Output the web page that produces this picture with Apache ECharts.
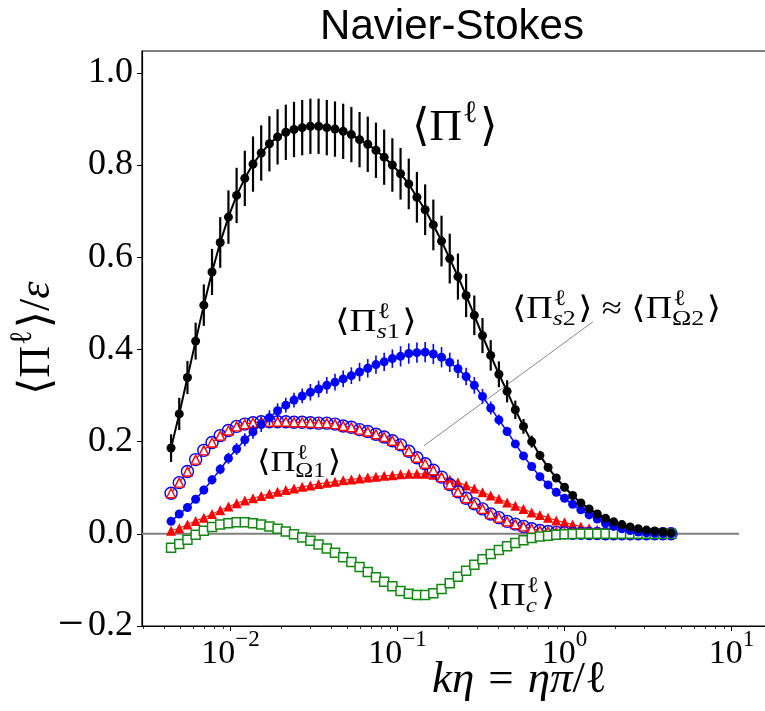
<!DOCTYPE html>
<html><head><meta charset="utf-8">
<script src="https://cdn.jsdelivr.net/npm/echarts@6/dist/echarts.min.js"></script>
<style>html,body{margin:0;padding:0;background:#fff;overflow:hidden}#c{width:765px;height:711px}</style>
</head><body><div id="c"></div>
<script>
// ---------------- data ----------------
const kEta = [0.004406,0.004933,0.005524,0.006183,0.006922,0.007751,0.008679,0.009718,0.01088,0.01218,
  0.01364,0.01527,0.01710,0.01914,0.02144,0.02400,0.02687,0.03009,0.03369,0.03772,
  0.04223,0.04728,0.05294,0.05927,0.06636,0.07430,0.08320,0.09315,0.1043,0.1168,
  0.1307,0.1464,0.1639,0.1835,0.2055,0.2301,0.2576,0.2884,0.3228,0.3615,
  0.4048,0.4532,0.5075,0.5681,0.6361,0.7122,0.7975,0.8929,1.000,1.119,
  1.253,1.404,1.571,1.759,1.970,2.206,2.470,2.765,3.096,3.467,3.881,4.345];
const piL = [0.186,0.260,0.339,0.418,0.496,0.568,0.632,0.687,0.734,0.771,
  0.802,0.826,0.846,0.861,0.871,0.877,0.881,0.884,0.884,0.881,
  0.878,0.873,0.866,0.855,0.845,0.832,0.817,0.800,0.781,0.759,
  0.730,0.703,0.670,0.635,0.597,0.558,0.517,0.474,0.430,0.387,
  0.346,0.309,0.269,0.233,0.200,0.170,0.144,0.121,0.101,0.083,
  0.067,0.054,0.043,0.034,0.026,0.020,0.015,0.011,0.008,0.006,0.004,0.002];
const piLErr = [0.030,0.035,0.036,0.040,0.045,0.050,0.055,0.058,0.060,0.060,
  0.060,0.060,0.060,0.060,0.060,0.060,0.060,0.060,0.060,0.060,
  0.060,0.060,0.060,0.060,0.060,0.060,0.060,0.058,0.056,0.055,
  0.055,0.055,0.055,0.055,0.054,0.050,0.047,0.043,0.038,0.033,
  0.028,0.024,0.020,0.016,0.013,0.010,0.008,0.006,0.005,0.004,
  0.003,0.003,0.003,0.003,0.003,0.003,0.003,0.003,0.003,0.003,0.003,0.003];
const piS1 = [0.027,0.043,0.057,0.075,0.095,0.117,0.140,0.164,0.184,0.204,
  0.221,0.237,0.252,0.267,0.279,0.290,0.299,0.307,0.314,0.322,
  0.329,0.336,0.343,0.351,0.359,0.367,0.373,0.380,0.385,0.391,
  0.393,0.394,0.390,0.383,0.372,0.358,0.341,0.322,0.298,0.273,
  0.247,0.222,0.195,0.169,0.146,0.124,0.106,0.090,0.077,0.064,
  0.052,0.041,0.032,0.023,0.016,0.011,0.007,0.004,0.002,0.001,0.0005,0.0];
const piS1Err = [0.005,0.006,0.007,0.008,0.009,0.010,0.011,0.012,0.013,0.014,
  0.015,0.016,0.016,0.016,0.016,0.016,0.016,0.018,0.018,0.018,
  0.018,0.018,0.018,0.020,0.020,0.020,0.020,0.020,0.022,0.022,
  0.022,0.022,0.022,0.022,0.021,0.020,0.019,0.018,0.016,0.014,
  0.012,0.010,0.008,0.007,0.006,0.005,0.004,0.004,0.003,0.003,
  0.002,0.002,0.002,0.002,0.002,0.002,0.002,0.002,0.002,0.002,0.002,0.002];
const piS2 = [0.088,0.111,0.135,0.161,0.181,0.198,0.213,0.224,0.233,0.238,
  0.241,0.243,0.243,0.243,0.243,0.242,0.242,0.241,0.240,0.240,
  0.238,0.234,0.231,0.226,0.222,0.216,0.210,0.202,0.193,0.179,
  0.165,0.152,0.138,0.123,0.107,0.091,0.077,0.065,0.054,0.043,
  0.035,0.027,0.021,0.016,0.011,0.007,0.005,0.003,0.002,0.001,
  0.001,0.0005,0.0005,0.0,0.0,0.0,0.0,0.0,0.0,0.0,0.0,0.0];
const piO2 = [0.088,0.111,0.135,0.161,0.181,0.198,0.213,0.224,0.233,0.238,
  0.241,0.243,0.243,0.243,0.243,0.242,0.242,0.241,0.240,0.240,
  0.238,0.234,0.231,0.226,0.222,0.216,0.210,0.202,0.193,0.179,
  0.165,0.152,0.138,0.123,0.107,0.091,0.077,0.065,0.054,0.043,
  0.035,0.027,0.021,0.016,0.011,0.007,0.005,0.003,0.002,0.001,
  0.001,0.0005,0.0005,0.0,0.0,0.0,0.0,0.0,0.0,0.0,0.0,0.0];
const piO1 = [0.0065,0.012,0.020,0.028,0.035,0.043,0.051,0.059,0.066,0.072,
  0.077,0.082,0.087,0.091,0.095,0.098,0.102,0.105,0.108,0.111,
  0.113,0.116,0.118,0.120,0.122,0.124,0.126,0.127,0.129,0.130,
  0.130,0.130,0.128,0.124,0.118,0.112,0.105,0.098,0.090,0.083,
  0.076,0.068,0.061,0.054,0.046,0.041,0.035,0.029,0.025,0.020,
  0.016,0.012,0.009,0.0065,0.004,0.002,0.001,0.001,0.0,0.0,0.0,0.0];
const piC = [-0.030,-0.022,-0.013,-0.002,0.0065,0.015,0.020,0.023,0.025,0.025,
  0.023,0.020,0.016,0.011,0.005,-0.001,-0.008,-0.015,-0.023,-0.032,
  -0.041,-0.051,-0.061,-0.072,-0.083,-0.094,-0.104,-0.114,-0.124,-0.130,
  -0.133,-0.133,-0.129,-0.120,-0.107,-0.093,-0.080,-0.067,-0.055,-0.044,
  -0.035,-0.027,-0.020,-0.014,-0.009,-0.006,-0.004,-0.002,-0.001,-0.0005,
  0.0,0.0,0.0,0.0,0.0,0.0,0.0,0.0,0.0,0.0,0.0,0.0];
const xTickExponents = [-2, -1, 0, 1];
const yTickValues = [-0.2, 0.0, 0.2, 0.4, 0.6, 0.8, 1.0];
const zeroLineEndX = 11.1;
const pointerFrom = [0.144, 0.191];
const pointerTo = [1.48, 0.46];

// ---------------- layout ----------------
const W = 765, GL = 142, GT = 51, GB = 85, PX_DEC = 167, PX_E2 = 230.5, R_EDGE = 790;
const XMIN = (GL - PX_E2) / PX_DEC - 2;
const XMAX = (R_EDGE - PX_E2) / PX_DEC - 2;
const lg = v => Math.log10(v);
const minorTicks = [];
for (let e = -3; e <= 2; e++) for (let m = 2; m <= 9; m++) {
  const v = e + Math.log10(m); if (v > XMIN && v < XMAX) minorTicks.push(v);
}
const SERIF = '"Liberation Serif","DejaVu Serif",serif';

const ctx = document.createElement('canvas').getContext('2d');
function tw(t, s, it) { ctx.font = (it ? 'italic ' : '') + s + 'px ' + SERIF; return ctx.measureText(t).width; }
function txt(x, base, t, s, it) {
  return { type: 'text', x: x, y: base - 0.34 * s, style: { text: t, fontSize: s, fontFamily: SERIF,
    fontStyle: it ? 'italic' : 'normal', fill: '#000', textAlign: 'left', textVerticalAlign: 'middle',
    align: 'left', verticalAlign: 'middle' } };
}
function mathGroup(x, base, rot, items, S, sx) {
  let cx = 0; const ch = [];
  items.forEach(it => {
    if (it.t !== undefined) {
      const s = it.s || S; ch.push(txt(cx, 0, it.t, s, it.i)); cx += tw(it.t, s, it.i) + (it.g || 0);
    } else {
      const ss = Math.round(S * 0.7); let w = 0;
      if (it.sup) { ch.push(txt(cx + 1, -S * 0.42, it.sup, ss, false)); w = Math.max(w, tw(it.sup, ss, false) + 1); }
      if (it.sub) {
        let px = cx; it.sub.forEach(p => { ch.push(txt(px, S * 0.2, p.t, ss, p.i)); px += tw(p.t, ss, p.i); });
        w = Math.max(w, px - cx);
      }
      cx += w + 2;
    }
  });
  return { type: 'group', x: x, y: base, rotation: rot, scaleX: sx || 1, children: ch, silent: true };
}

const chart = echarts.init(document.getElementById('c'), null, { renderer: 'canvas' });
const xy = arr => kEta.map((k, i) => [lg(k), arr[i]]);
const errData = (arr, err) => kEta.map((k, i) => [lg(k), arr[i], err[i]]);
function errSeries(arr, err, color, w, z) {
  return { type: 'custom', z: z, silent: true, data: errData(arr, err),
    encode: { x: 0, y: 1 },
    renderItem: (p, api) => {
      const x = api.value(0), y = api.value(1), e = api.value(2);
      const a = api.coord([x, y - e]), b = api.coord([x, y + e]);
      return { type: 'line', shape: { x1: a[0], y1: a[1], x2: b[0], y2: b[1] }, style: { stroke: color, lineWidth: w } };
    } };
}

const option = {
  animation: false,
  backgroundColor: '#fff',
  grid: { left: GL, top: GT, right: W - R_EDGE, bottom: GB, show: true, borderColor: '#000', borderWidth: 1.2,
    backgroundColor: 'transparent', containLabel: false, outerBoundsMode: 'none' },
  xAxis: [{
    type: 'value', min: XMIN, max: XMAX, position: 'bottom',
    splitLine: { show: false },
    axisLine: { show: true, onZero: false, lineStyle: { color: '#000', width: 1.2 } },
    axisTick: { show: true, length: 5, lineStyle: { color: '#000', width: 1 }, customValues: xTickExponents },
    axisLabel: { customValues: xTickExponents, margin: 2, color: '#000',
      formatter: v => { const e = Math.round(v); return '{b|10}{s|' + (e < 0 ? '\u2212' + (-e) : e) + '}'; },
      rich: { b: { fontSize: 34, fontFamily: SERIF, lineHeight: 52, color: '#000' },
              s: { fontSize: 23, fontFamily: SERIF, lineHeight: 24, verticalAlign: 'top', color: '#000' } } }
  }, {
    type: 'value', min: XMIN, max: XMAX, position: 'bottom', offset: 0,
    splitLine: { show: false }, axisLine: { show: false, onZero: false },
    axisTick: { show: true, length: 3, lineStyle: { color: '#000', width: 0.8 }, customValues: minorTicks },
    axisLabel: { show: false }
  }],
  yAxis: [{
    type: 'value', min: -0.2, max: -0.2 + (711 - GB - GT) / 461,
    splitLine: { show: false },
    axisLine: { show: true, onZero: false, lineStyle: { color: '#000', width: 1.2 } },
    axisTick: { show: true, length: 5, lineStyle: { color: '#000', width: 1 }, customValues: yTickValues },
    axisLabel: { customValues: yTickValues, margin: 9, color: '#000', fontSize: 36, fontFamily: SERIF,
      formatter: v => (v < -1e-9 ? '{m|\u2212}' + Math.abs(v).toFixed(1) : Math.abs(v).toFixed(1)),
      rich: { m: { fontSize: 46, fontFamily: SERIF, width: 30, align: 'left', color: '#000' } } }
  }],
  series: [
    { type: 'line', name: 'zero', z: 1, silent: true, symbol: 'none', data: [[XMIN, 0], [lg(zeroLineEndX), 0]],
      lineStyle: { color: '#808080', width: 2 } },
    { type: 'line', name: 'pointer', z: 1, silent: true, symbol: 'none', data: [[lg(pointerFrom[0]), pointerFrom[1]], [lg(pointerTo[0]), pointerTo[1]]],
      lineStyle: { color: '#8a8a8a', width: 1 } },
    { type: 'line', name: 'PiO1', z: 2, data: xy(piO1), symbol: 'triangle', symbolSize: 10,
      itemStyle: { color: '#ff0000' }, lineStyle: { color: '#ff0000', width: 1 } },
    { type: 'line', name: 'PiS2', z: 3, data: xy(piS2), symbol: 'circle', symbolSize: 12,
      itemStyle: { color: 'rgba(255,255,255,0)', borderColor: '#0000ff', borderWidth: 1.4 }, lineStyle: { color: '#0000ff', width: 1 } },
    { type: 'line', name: 'PiO2', z: 3, data: xy(piO2), symbol: 'triangle', symbolSize: 9,
      itemStyle: { color: '#ffffff', borderColor: '#ff0000', borderWidth: 1.4 }, lineStyle: { color: '#ff0000', width: 1 } },
    { type: 'line', name: 'PiC', z: 4, data: xy(piC), symbol: 'rect', symbolSize: 9,
      itemStyle: { color: '#ffffff', borderColor: '#118811', borderWidth: 1.5 }, lineStyle: { color: '#118811', width: 1 } },
    errSeries(piS1, piS1Err, '#0000ff', 1.6, 5),
    { type: 'line', name: 'PiS1', z: 5, data: xy(piS1), symbol: 'circle', symbolSize: 9,
      itemStyle: { color: '#0000ff' }, lineStyle: { color: '#0000ff', width: 1.5 } },
    errSeries(piL, piLErr, '#000000', 2.2, 6),
    { type: 'line', name: 'PiL', z: 6, data: xy(piL), symbol: 'circle', symbolSize: 9,
      itemStyle: { color: '#000000' }, lineStyle: { color: '#000000', width: 2 } }
  ],
  graphic: [
    { type: 'text', x: 452, y: 27, silent: true,
      style: { text: 'Navier-Stokes', fontSize: 42, fontFamily: '"Liberation Sans",Arial,sans-serif', fill: '#000',
        textAlign: 'center', textVerticalAlign: 'middle', align: 'center', verticalAlign: 'middle' } },
    mathGroup(412, 143, 0, [{ t: '\u27E8\u03A0' }, { sup: '\u2113' }, { t: '\u27E9' }], 45),
    mathGroup(335, 333, 0, [{ t: '\u27E8\u03A0' }, { sup: '\u2113', sub: [{ t: 's', i: true }, { t: '1' }] }, { t: '\u27E9' }], 31, 1.2),
    mathGroup(512, 320, 0, [{ t: '\u27E8\u03A0' }, { sup: '\u2113', sub: [{ t: 's', i: true }, { t: '2' }] }, { t: '\u27E9', g: 8 },
      { t: '\u2248', g: 8 }, { t: '\u27E8\u03A0' }, { sup: '\u2113', sub: [{ t: '\u03A9' }, { t: '2' }] }, { t: '\u27E9' }], 31, 1.18),
    mathGroup(257, 473, 0, [{ t: '\u27E8\u03A0' }, { sup: '\u2113', sub: [{ t: '\u03A9' }, { t: '1' }] }, { t: '\u27E9' }], 30, 1.15),
    mathGroup(486, 607, 0, [{ t: '\u27E8\u03A0' }, { sup: '\u2113', sub: [{ t: 'c', i: true }] }, { t: '\u27E9' }], 31, 1.15),
    mathGroup(52, 395, Math.PI / 2, [{ t: '\u27E8\u03A0' }, { sup: '\u2113' }, { t: '\u27E9/' }, { t: '\u03B5', i: true }], 44),
    mathGroup(432, 695, 0, [{ t: 'k\u03B7', i: true, g: 14 }, { t: '=', g: 14 }, { t: '\u03B7\u03C0', i: true }, { t: '/' }, { t: '\u2113' }], 45)
  ]
};
chart.setOption(option);
</script></body></html>
